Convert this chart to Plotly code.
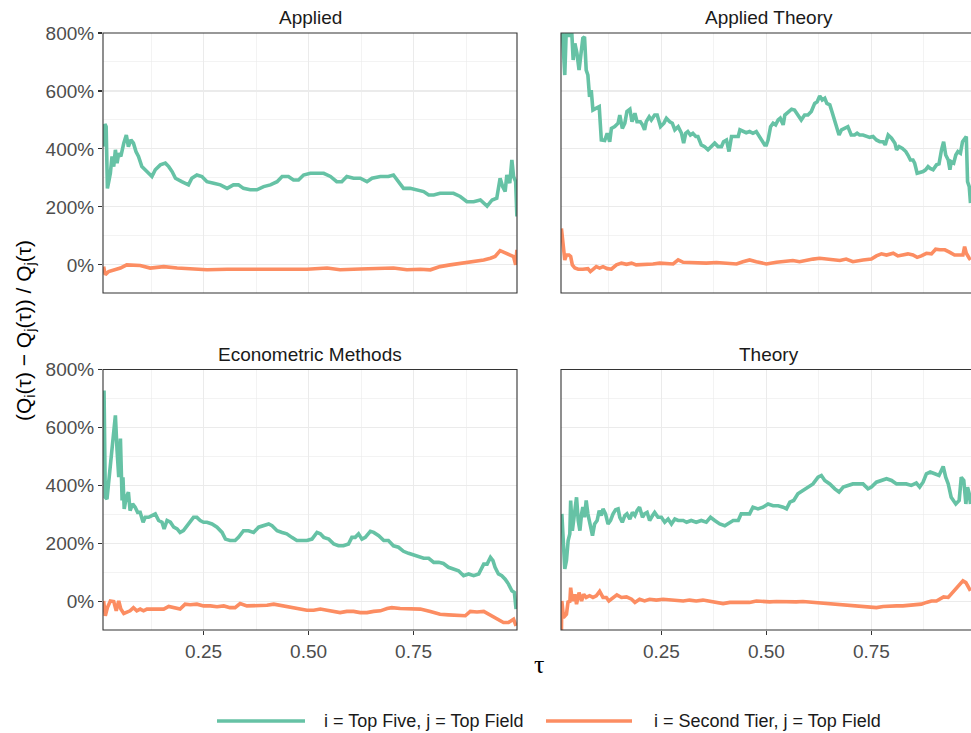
import plotly.graph_objects as go

GREEN = "#66C2A5"
ORANGE = "#FC8D62"
FONT = "Liberation Sans, Arial, Helvetica, sans-serif"

panel_titles = ["Applied", "Applied Theory", "Econometric Methods", "Theory"]
series_names = ["i = Top Five, j = Top Field", "i = Second Tier, j = Top Field"]

# ---------------- Applied ----------------
applied_top5_tau = [0.012,0.015,0.018,0.021,0.025,0.028,0.032,0.036,0.040,0.044,
                    0.048,0.053,0.060,0.066,0.071,0.077,0.083,0.089,0.095,0.103,
                    0.115,0.127,0.135,0.147,0.159,0.167,0.175,0.183,0.198,0.214,
                    0.222,0.234,0.246,0.258,0.274,0.290,0.306,0.321,0.333,0.345,
                    0.361,0.377,0.393,0.409,0.425,0.437,0.452,0.464,0.476,0.488,
                    0.504,0.520,0.536,0.552,0.567,0.579,0.591,0.607,0.623,0.639,
                    0.651,0.671,0.690,0.702,0.714,0.726,0.742,0.758,0.774,0.786,
                    0.798,0.813,0.829,0.845,0.861,0.877,0.893,0.909,0.925,0.937,
                    0.948,0.956,0.962,0.968,0.972,0.979,0.984,0.988,0.993,0.996]
applied_top5_pct = [408,486,477,264,293,316,374,339,397,351,
                    385,374,420,448,408,431,420,391,374,339,
                    322,305,328,345,351,339,322,299,287,276,
                    299,310,305,287,282,276,264,276,276,264,
                    259,259,270,276,287,305,305,293,293,310,
                    316,316,316,305,287,287,305,299,299,287,
                    299,305,305,310,287,264,264,259,253,241,
                    241,247,247,247,236,218,218,224,203,224,
                    230,299,270,253,310,282,362,305,287,167]

applied_second_tau = [0.012,0.016,0.024,0.036,0.052,0.067,0.083,0.099,0.123,0.155,
                      0.187,0.226,0.258,0.306,0.353,0.401,0.448,0.496,0.544,0.575,
                      0.623,0.671,0.702,0.734,0.766,0.790,0.813,0.837,0.869,0.893,
                      0.917,0.933,0.944,0.956,0.968,0.980,0.988,0.993,0.996]
applied_second_pct = [-6,-34,-23,-17,-11,0,0,-2,-11,-6,
                      -11,-15,-17,-15,-15,-13,-13,-15,-11,-17,
                      -14,-11,-11,-17,-15,-17,-6,0,6,11,
                      17,23,29,49,40,34,29,0,52]

# ---------------- Applied Theory ----------------
apptheory_top5_tau = [0.014,0.016,0.020,0.024,0.030,0.036,0.040,0.044,0.049,0.054,
                      0.060,0.063,0.067,0.071,0.075,0.079,0.083,0.087,0.094,0.102,
                      0.107,0.115,0.121,0.127,0.131,0.139,0.147,0.151,0.157,0.163,
                      0.168,0.175,0.180,0.187,0.192,0.200,0.205,0.210,0.214,0.221,
                      0.226,0.234,0.240,0.248,0.256,0.262,0.270,0.276,0.282,0.290,
                      0.298,0.303,0.308,0.313,0.319,0.325,0.332,0.337,0.345,0.353,
                      0.361,0.369,0.377,0.385,0.393,0.398,0.405,0.411,0.417,0.425,
                      0.433,0.437,0.444,0.452,0.460,0.468,0.476,0.483,0.490,0.496,
                      0.500,0.504,0.510,0.516,0.522,0.528,0.533,0.540,0.544,0.552,
                      0.560,0.567,0.575,0.583,0.591,0.599,0.607,0.615,0.621,0.627,
                      0.633,0.639,0.644,0.651,0.656,0.663,0.668,0.673,0.679,0.687,
                      0.694,0.702,0.710,0.716,0.722,0.730,0.738,0.746,0.754,0.762,
                      0.770,0.778,0.783,0.790,0.798,0.806,0.810,0.816,0.824,0.832,
                      0.837,0.843,0.849,0.853,0.859,0.865,0.873,0.879,0.885,0.890,
                      0.897,0.905,0.911,0.917,0.922,0.927,0.933,0.937,0.940,0.946,
                      0.951,0.956,0.962,0.967,0.972,0.976,0.979,0.983,0.986]
apptheory_top5_pct = [810,741,655,830,787,820,707,764,730,672,
                      741,782,787,672,655,580,603,534,540,546,
                      431,429,454,425,471,477,489,517,471,489,
                      529,537,494,523,494,494,483,466,494,511,
                      500,517,517,477,489,506,494,489,466,477,
                      454,420,454,460,448,454,443,443,414,408,
                      397,408,420,408,408,425,431,391,443,443,
                      443,466,460,456,460,454,460,443,425,414,
                      414,431,477,489,483,500,506,483,517,529,
                      537,534,517,500,517,517,529,557,563,583,
                      569,575,557,552,529,494,477,448,466,471,
                      477,448,448,454,448,448,445,440,443,431,
                      425,425,414,448,437,420,397,408,402,391,
                      379,362,362,351,316,318,322,328,339,333,
                      328,345,348,397,425,379,362,328,356,351,
                      379,391,385,425,437,443,287,270,213]

apptheory_second_tau = [0.012,0.016,0.020,0.024,0.030,0.034,0.038,0.044,0.052,0.063,
                        0.075,0.081,0.087,0.095,0.103,0.111,0.121,0.131,0.143,0.155,
                        0.167,0.179,0.190,0.202,0.214,0.230,0.246,0.262,0.278,0.290,
                        0.302,0.317,0.333,0.357,0.381,0.405,0.429,0.444,0.460,0.476,
                        0.500,0.524,0.548,0.563,0.579,0.595,0.611,0.627,0.651,0.675,
                        0.690,0.706,0.730,0.750,0.762,0.774,0.786,0.802,0.813,0.825,
                        0.837,0.849,0.859,0.869,0.881,0.893,0.903,0.913,0.925,0.937,
                        0.948,0.960,0.968,0.972,0.976,0.983,0.986]
apptheory_second_pct = [126,52,17,34,34,29,0,-11,-15,-15,
                        -13,-23,-17,-6,-11,-6,-13,-15,0,6,
                        2,6,0,0,2,3,6,6,3,17,
                        9,8,6,6,8,7,3,11,17,11,
                        3,9,11,15,11,17,20,23,20,15,
                        20,11,17,20,31,38,34,40,31,34,
                        38,34,26,31,40,38,54,52,52,43,
                        34,34,34,63,40,23,17]

# ---------------- Econometric Methods ----------------
econ_top5_tau = [0.013,0.016,0.020,0.028,0.034,0.040,0.044,0.048,0.052,0.056,
                 0.058,0.061,0.066,0.071,0.075,0.081,0.087,0.093,0.099,0.106,
                 0.111,0.119,0.127,0.135,0.143,0.151,0.156,0.163,0.171,0.179,
                 0.187,0.194,0.202,0.210,0.218,0.226,0.234,0.242,0.250,0.258,
                 0.270,0.282,0.294,0.302,0.313,0.325,0.333,0.345,0.357,0.369,
                 0.381,0.393,0.405,0.413,0.425,0.437,0.448,0.460,0.472,0.484,
                 0.496,0.508,0.520,0.528,0.536,0.548,0.560,0.571,0.583,0.595,
                 0.603,0.611,0.619,0.627,0.635,0.647,0.655,0.667,0.679,0.690,
                 0.702,0.714,0.726,0.738,0.750,0.762,0.774,0.786,0.798,0.810,
                 0.821,0.833,0.845,0.857,0.869,0.881,0.893,0.905,0.917,0.925,
                 0.933,0.939,0.944,0.952,0.960,0.968,0.976,0.984,0.990,0.994]
econ_top5_pct = [728,360,354,464,556,642,521,429,562,349,
                 429,320,360,378,314,337,326,308,308,274,
                 291,291,297,303,280,274,251,280,274,257,
                 251,239,245,262,274,291,291,280,274,274,
                 268,257,239,216,211,211,222,245,245,239,
                 257,262,268,262,245,239,234,222,211,211,
                 211,216,239,234,222,216,199,193,193,199,
                 222,222,234,216,222,243,239,228,211,211,
                 193,188,174,167,161,153,150,150,136,136,
                 132,119,113,107,90,96,90,96,130,130,
                 153,142,119,96,90,78,61,38,32,-25]

econ_second_tau = [0.012,0.016,0.021,0.028,0.036,0.042,0.048,0.053,0.060,0.067,
                   0.075,0.083,0.091,0.099,0.107,0.115,0.127,0.139,0.155,0.167,
                   0.179,0.194,0.206,0.218,0.234,0.250,0.266,0.282,0.298,0.313,
                   0.325,0.337,0.353,0.369,0.385,0.401,0.417,0.433,0.448,0.464,
                   0.480,0.496,0.512,0.528,0.544,0.560,0.575,0.591,0.607,0.623,
                   0.639,0.655,0.671,0.687,0.698,0.718,0.742,0.766,0.790,0.813,
                   0.833,0.853,0.873,0.885,0.901,0.917,0.929,0.940,0.952,0.964,
                   0.976,0.988,0.994]
econ_second_pct = [3,-48,-20,3,1,-31,3,-25,-40,-37,
                   -31,-20,-31,-25,-31,-25,-25,-22,-25,-16,
                   -20,-25,-8,-10,-8,-14,-14,-17,-14,-20,
                   -20,-6,-14,-14,-12,-12,-8,-12,-14,-20,
                   -25,-29,-29,-25,-29,-33,-37,-33,-33,-37,
                   -37,-33,-31,-23,-20,-23,-25,-25,-33,-43,
                   -45,-48,-48,-33,-35,-33,-43,-54,-63,-71,
                   -71,-60,-83]

# ---------------- Theory ----------------
theory_top5_tau = [0.013,0.016,0.020,0.024,0.028,0.032,0.034,0.038,0.044,0.048,
                   0.052,0.056,0.060,0.063,0.067,0.071,0.075,0.081,0.086,0.091,
                   0.097,0.102,0.107,0.111,0.117,0.123,0.129,0.135,0.141,0.147,
                   0.151,0.157,0.163,0.168,0.175,0.181,0.187,0.192,0.198,0.205,
                   0.210,0.216,0.222,0.229,0.234,0.242,0.250,0.258,0.266,0.274,
                   0.282,0.290,0.302,0.310,0.321,0.333,0.345,0.357,0.367,0.377,
                   0.389,0.401,0.409,0.421,0.433,0.440,0.448,0.460,0.468,0.480,
                   0.492,0.504,0.516,0.528,0.540,0.548,0.556,0.565,0.575,0.587,
                   0.599,0.611,0.623,0.631,0.639,0.651,0.663,0.673,0.683,0.694,
                   0.706,0.718,0.730,0.742,0.750,0.762,0.774,0.786,0.798,0.810,
                   0.821,0.833,0.845,0.857,0.865,0.873,0.881,0.890,0.901,0.911,
                   0.921,0.927,0.933,0.940,0.951,0.959,0.964,0.970,0.975,0.979,
                   0.983,0.986]
theory_top5_pct = [303,211,113,142,211,234,349,245,314,360,
                   280,245,303,326,291,349,303,257,228,268,
                   280,314,297,320,303,268,280,303,317,320,
                   291,274,297,303,285,308,297,314,326,291,
                   303,308,280,297,308,291,291,274,285,268,
                   285,280,280,274,280,274,280,274,291,280,
                   268,262,268,280,280,303,303,303,326,320,
                   326,337,331,331,326,320,343,349,372,383,
                   395,406,429,435,418,406,389,378,395,401,
                   406,406,406,389,395,412,418,424,418,406,
                   406,406,401,409,395,412,441,447,441,435,
                   466,429,406,360,337,349,429,418,337,395,
                   372,337]

theory_second_tau = [0.012,0.013,0.017,0.024,0.028,0.032,0.034,0.038,0.044,0.048,
                     0.054,0.060,0.065,0.071,0.079,0.087,0.095,0.103,0.111,0.119,
                     0.125,0.135,0.144,0.155,0.167,0.179,0.187,0.198,0.210,0.222,
                     0.238,0.254,0.270,0.286,0.302,0.317,0.333,0.349,0.365,0.381,
                     0.397,0.413,0.429,0.444,0.460,0.476,0.492,0.508,0.524,0.540,
                     0.556,0.571,0.587,0.603,0.619,0.635,0.651,0.667,0.683,0.698,
                     0.714,0.730,0.746,0.762,0.778,0.794,0.810,0.825,0.841,0.857,
                     0.869,0.881,0.893,0.905,0.914,0.922,0.933,0.940,0.948,0.956,
                     0.962,0.968,0.975,0.980,0.986]
theory_second_pct = [-100,3,-54,-43,3,-2,49,3,26,-8,
                     32,3,26,15,21,15,21,36,15,15,
                     3,15,24,15,17,9,-2,9,3,9,
                     6,9,6,6,3,6,3,6,3,-2,
                     -6,-2,-2,0,-2,3,1,0,1,0,
                     1,0,1,-1,-2,-6,-8,-10,-12,-14,
                     -14,-16,-17,-20,-16,-14,-14,-14,-12,-12,
                     -8,-2,3,3,9,17,15,26,38,49,
                     61,72,66,55,38]

y_tickvals = [0, 200, 400, 600, 800]
y_ticktext = ["0%", "200%", "400%", "600%", "800%"]
y_minor = [100, 300, 500, 700]
x_tickvals = [0.25, 0.50, 0.75]
x_ticktext = ["0.25", "0.50", "0.75"]
x_minor = [0.125, 0.375, 0.625, 0.875]

panel_data = [
    (applied_top5_tau, applied_top5_pct, applied_second_tau, applied_second_pct),
    (apptheory_top5_tau, apptheory_top5_pct, apptheory_second_tau, apptheory_second_pct),
    (econ_top5_tau, econ_top5_pct, econ_second_tau, econ_second_pct),
    (theory_top5_tau, theory_top5_pct, theory_second_tau, theory_second_pct),
]

fig = go.Figure()
for i, (t1, v1, t2, v2) in enumerate(panel_data):
    sfx = "" if i == 0 else str(i + 1)
    fig.add_trace(go.Scatter(x=t1, y=v1, mode="lines", name=series_names[0],
                             line=dict(color=GREEN, width=3.6), showlegend=False,
                             hoverinfo="skip",
                             xaxis="x" + sfx, yaxis="y" + sfx))
    fig.add_trace(go.Scatter(x=t2, y=v2, mode="lines", name=series_names[1],
                             line=dict(color=ORANGE, width=3.6), showlegend=False,
                             hoverinfo="skip",
                             xaxis="x" + sfx, yaxis="y" + sfx))

# body margin is removed by a post script, so the figure fills the window
W, H = 971, 733
ML, MR, MT, MB = 103, 0, 33, 103
PW = W - ML - MR
PH = H - MT - MB

def px_x(p):
    return (p - ML) / PW

def px_y(p):
    return (H - MB - p) / PH

left_dom = [0.0, px_x(517)]
right_dom = [px_x(561), 1.0]
top_dom = [px_y(293), 1.0]
bot_dom = [0.0, px_y(369.5)]

grid_col = "#EBEBEB"

def xaxis(dom, anchor, show_labels, rng):
    return dict(domain=dom, anchor=anchor, range=rng,
                tickvals=x_tickvals, ticktext=x_ticktext,
                showticklabels=show_labels,
                ticks="outside" if show_labels else "", ticklen=4, tickwidth=1.1,
                tickcolor="#333333",
                tickfont=dict(family=FONT, size=19, color="#4D4D4D"),
                showgrid=True, gridcolor=grid_col, gridwidth=1.1,
                minor=dict(tickvals=x_minor, showgrid=True, gridcolor=grid_col,
                           gridwidth=0.6, ticks=""),
                zeroline=False, showline=False, fixedrange=True)

def yaxis(dom, anchor, show_labels):
    return dict(domain=dom, anchor=anchor, range=[-97, 800],
                tickvals=y_tickvals, ticktext=y_ticktext,
                showticklabels=show_labels,
                ticks="outside" if show_labels else "", ticklen=4, tickwidth=1.1,
                tickcolor="#333333",
                tickfont=dict(family=FONT, size=19, color="#4D4D4D"),
                showgrid=True, gridcolor=grid_col, gridwidth=1.1,
                minor=dict(tickvals=y_minor, showgrid=True, gridcolor=grid_col,
                           gridwidth=0.6, ticks=""),
                zeroline=False, showline=False, fixedrange=True)

left_rng = [0.0105, 0.0105 + (left_dom[1] - left_dom[0]) * PW / 420]
right_rng = [0.011, 0.011 + (right_dom[1] - right_dom[0]) * PW / 420]

fig.update_layout(
    width=W, height=H,
    margin=dict(l=ML, r=MR, t=MT, b=MB),
    paper_bgcolor="white", plot_bgcolor="white",
    font=dict(family=FONT, color="#1A1A1A"),
    showlegend=False,
    hovermode=False,
    xaxis=xaxis(left_dom, "y", False, left_rng),
    yaxis=yaxis(top_dom, "x", True),
    xaxis2=xaxis(right_dom, "y2", False, right_rng),
    yaxis2=yaxis(top_dom, "x2", False),
    xaxis3=xaxis(left_dom, "y3", True, left_rng),
    yaxis3=yaxis(bot_dom, "x3", True),
    xaxis4=xaxis(right_dom, "y4", True, right_rng),
    yaxis4=yaxis(bot_dom, "x4", False),
)

shapes = []
annotations = []
axes_ids = [("x", "y"), ("x2", "y2"), ("x3", "y3"), ("x4", "y4")]
right_w = (right_dom[1] - right_dom[0]) * PW
for i, (xa, ya) in enumerate(axes_ids):
    x1 = 1.0 if i in (0, 2) else 1.02
    shapes.append(dict(type="rect", xref=xa + " domain", yref=ya + " domain",
                       x0=0, x1=x1, y0=0, y1=1, line=dict(color="#333333", width=1.1),
                       fillcolor="rgba(0,0,0,0)", layer="above"))
    annotations.append(dict(text=panel_titles[i], xref=xa + " domain", yref=ya + " domain",
                            x=0.5 if i in (0, 2) else 0.5 * 415 / right_w,
                            y=1.0, yshift=3, xanchor="center", yanchor="bottom",
                            showarrow=False, font=dict(family=FONT, size=19, color="#1A1A1A")))

# axis titles
annotations.append(dict(text="(Q<sub>i</sub>(τ) − Q<sub>j</sub>(τ)) / Q<sub>j</sub>(τ)",
                        xref="paper", yref="paper", x=px_x(25), y=px_y(331), textangle=-90,
                        xanchor="center", yanchor="middle", showarrow=False,
                        font=dict(family=FONT, size=21, color="black")))
annotations.append(dict(text="τ", xref="paper", yref="paper", x=px_x(539), y=px_y(664),
                        xanchor="center", yanchor="middle", showarrow=False,
                        font=dict(family="Liberation Serif, DejaVu Serif, serif", size=26, color="black")))

# legend (drawn manually)
leg_y = px_y(721)
shapes.append(dict(type="line", xref="paper", yref="paper", x0=px_x(217), x1=px_x(305),
                   y0=leg_y, y1=leg_y, line=dict(color=GREEN, width=3.6)))
shapes.append(dict(type="line", xref="paper", yref="paper", x0=px_x(546), x1=px_x(632),
                   y0=leg_y, y1=leg_y, line=dict(color=ORANGE, width=3.6)))
annotations.append(dict(text=series_names[0], xref="paper", yref="paper", x=px_x(322), y=leg_y,
                        xanchor="left", yanchor="middle", showarrow=False,
                        font=dict(family=FONT, size=18, color="#1A1A1A")))
annotations.append(dict(text=series_names[1], xref="paper", yref="paper", x=px_x(652), y=leg_y,
                        xanchor="left", yanchor="middle", showarrow=False,
                        font=dict(family=FONT, size=18, color="#1A1A1A")))

fig.update_layout(shapes=shapes, annotations=annotations)
fig.write_html(
    "out.html",
    config={"displayModeBar": False, "staticPlot": True},
    post_script=("document.documentElement.style.margin='0';"
                 "document.body.style.margin='0';"
                 "document.documentElement.style.overflow='hidden';"
                 "document.body.style.overflow='hidden';"),
)
